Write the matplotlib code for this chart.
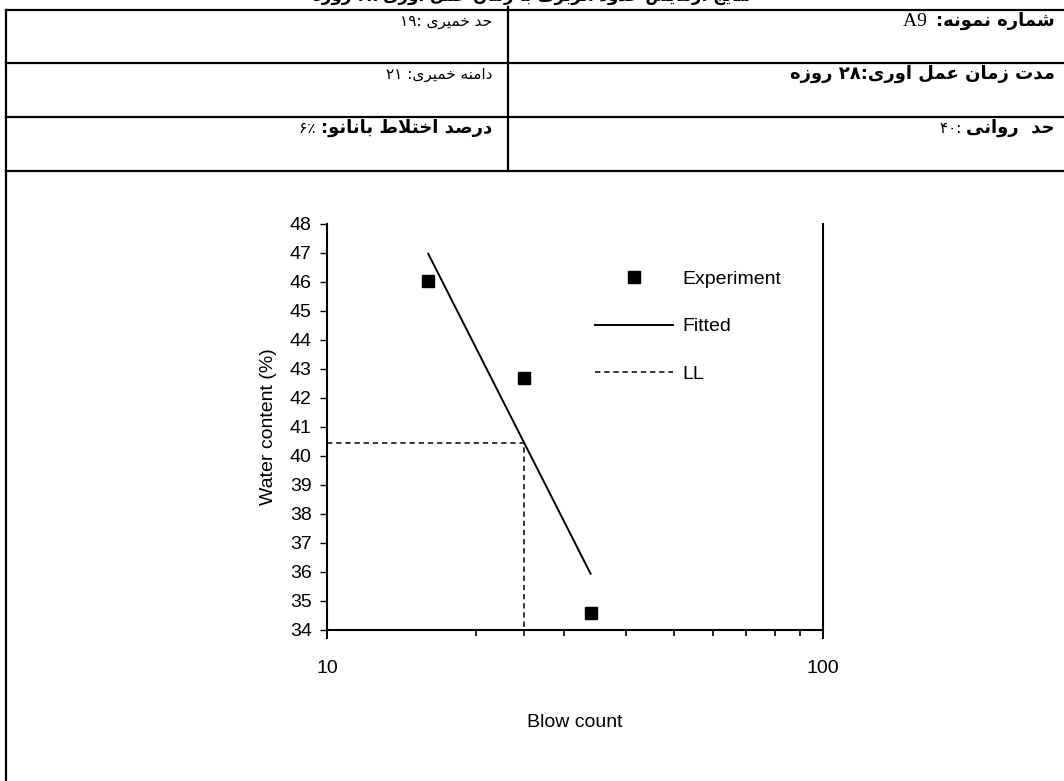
import re
import numpy as np
import matplotlib
matplotlib.use('Agg')
import matplotlib.pyplot as plt
from matplotlib.lines import Line2D
from matplotlib.ticker import LogLocator, NullFormatter

# data
blows = [16, 25, 34]
water = [46.05, 42.7, 34.6]
ll_blows = 25
y_ticks = list(range(34, 49))
x_ticks = [10, 100]
x_tick_labels = ['10', '100']
legend_labels = ['Experiment', 'Fitted', 'LL']

header = 'نتایج آزمایش حدود اتربرگ با زمان عمل آوری ۲۸ روزه'
# (text, style) pieces in logical order, first piece is right-most
right_col = [
    [('شماره نمونه:', 'bold'), ('  A9', 'latin')],
    [('مدت زمان عمل آوری:۲۸ روزه', 'bold')],
    [('حد  روانی', 'bold'), (' :۴۰', 'small')],
]
left_col = [
    [('حد خمیری :۱۹', 'small')],
    [('دامنه خمیری: ۲۱', 'small')],
    [('درصد اختلاط بانانو:', 'bold'), (' ۶٪', 'small')],
]

# minimal arabic-script shaping for matplotlib (no shaping engine there)
FORMS = {
    'ا': ('\uFE8D', '\uFE8E', None, None),
    'آ': ('\uFE81', '\uFE82', None, None),
    'ب': ('\uFE8F', '\uFE90', '\uFE91', '\uFE92'),
    'ت': ('\uFE95', '\uFE96', '\uFE97', '\uFE98'),
    'ج': ('\uFE9D', '\uFE9E', '\uFE9F', '\uFEA0'),
    'ح': ('\uFEA1', '\uFEA2', '\uFEA3', '\uFEA4'),
    'خ': ('\uFEA5', '\uFEA6', '\uFEA7', '\uFEA8'),
    'د': ('\uFEA9', '\uFEAA', None, None),
    'ر': ('\uFEAD', '\uFEAE', None, None),
    'ز': ('\uFEAF', '\uFEB0', None, None),
    'ش': ('\uFEB5', '\uFEB6', '\uFEB7', '\uFEB8'),
    'ص': ('\uFEB9', '\uFEBA', '\uFEBB', '\uFEBC'),
    'ط': ('\uFEC1', '\uFEC2', '\uFEC3', '\uFEC4'),
    'ع': ('\uFEC9', '\uFECA', '\uFECB', '\uFECC'),
    'گ': ('\uFB92', '\uFB93', '\uFB94', '\uFB95'),
    'ل': ('\uFEDD', '\uFEDE', '\uFEDF', '\uFEE0'),
    'م': ('\uFEE1', '\uFEE2', '\uFEE3', '\uFEE4'),
    'ن': ('\uFEE5', '\uFEE6', '\uFEE7', '\uFEE8'),
    'ه': ('\uFEE9', '\uFEEA', '\uFEEB', '\uFEEC'),
    'و': ('\uFEED', '\uFEEE', None, None),
    'ی': ('\uFBFC', '\uFBFD', '\uFBFE', '\uFBFF'),
}
LAM_ALEF = {'ا': ('\uFEFB', '\uFEFC'), 'آ': ('\uFEF5', '\uFEF6')}


def shape(s):
    out = []
    i = 0
    while i < len(s):
        ch = s[i]
        if ch not in FORMS:
            out.append(ch)
            i += 1
            continue
        prev = s[i - 1] if i > 0 else ''
        joins_prev = prev in FORMS and FORMS[prev][2] is not None
        nxt = s[i + 1] if i + 1 < len(s) else ''
        if ch == 'ل' and nxt in LAM_ALEF:
            out.append(LAM_ALEF[nxt][1 if joins_prev else 0])
            i += 2
            continue
        iso, fin, ini, med = FORMS[ch]
        joins_next = ini is not None and nxt in FORMS
        if joins_prev and joins_next:
            out.append(med)
        elif joins_prev:
            out.append(fin)
        elif joins_next:
            out.append(ini)
        else:
            out.append(iso)
        i += 1
    return ''.join(out)


def fa(s):
    # visual order: reverse, but keep digit / latin runs left-to-right
    runs = re.findall(r'[0-9A-Za-z\u06F0-\u06F9\u066A]+|.', shape(s))
    return ''.join(reversed(runs))


W, H = 1064, 781
plt.rcParams['font.family'] = ['Liberation Sans', 'DejaVu Sans']
fig = plt.figure(figsize=(W / 100, H / 100), dpi=100)
fx = lambda px: px / W
fy = lambda py: 1 - py / H

# table frame
for yy in [10, 63, 117, 171]:
    fig.add_artist(Line2D([fx(6), fx(W)], [fy(yy), fy(yy)], transform=fig.transFigure, lw=1.6, color='black'))
fig.add_artist(Line2D([fx(508), fx(508)], [fy(7), fy(171)], transform=fig.transFigure, lw=1.6, color='black'))
fig.add_artist(Line2D([fx(6), fx(6)], [fy(10), fy(H)], transform=fig.transFigure, lw=1.6, color='black'))

# header row is cut by the top edge in the original page
fig.text(fx(531), fy(1), fa(header), ha='center', va='baseline', fontsize=12,
         fontweight='bold', family='DejaVu Sans')

styles = {
    'bold': dict(fontsize=13, fontweight='bold', family='DejaVu Sans'),
    'small': dict(fontsize=11, family='DejaVu Sans'),
    'latin': dict(fontsize=14, family='Liberation Serif'),
}
renderer = fig.canvas.get_renderer()


def rtl_line(x_right, y_base, pieces):
    x = x_right
    for txt, st in pieces:
        t = fig.text(fx(x), fy(y_base), fa(txt), ha='right', va='baseline', **styles[st])
        x = t.get_window_extent(renderer).x0


for k, yb in enumerate([26, 79, 133]):
    rtl_line(1055, yb, right_col[k])
    rtl_line(492, yb, left_col[k])

# chart
ax = fig.add_axes([fx(327), fy(630), (823 - 327) / W, (630 - 224) / H])
lx = np.log10(blows)
slope, icpt = np.polyfit(lx, water, 1)
fit_x = np.array([min(blows), max(blows)])
fit_y = slope * np.log10(fit_x) + icpt
ll = slope * np.log10(ll_blows) + icpt

ax.plot(blows, water, 's', color='black', ms=8, ls='none', label=legend_labels[0])
ax.plot(fit_x, fit_y, '-', color='black', lw=1.4, label=legend_labels[1])
ax.plot([10, ll_blows], [ll, ll], ls=(0, (3.5, 2.5)), color='black', lw=1.1, label=legend_labels[2])
ax.plot([ll_blows, ll_blows], [33.8, ll], ls=(0, (3.5, 2.5)), color='black', lw=1.1, clip_on=False)

ax.set_xscale('log')
ax.set_xlim(10, 100)
ax.set_ylim(34, 48)
ax.set_yticks(y_ticks)
ax.set_xticks(x_ticks)
ax.set_xticklabels(x_tick_labels)
ax.xaxis.set_minor_locator(LogLocator(base=10, subs=np.arange(2, 10)))
ax.xaxis.set_minor_formatter(NullFormatter())
ax.tick_params(axis='y', direction='out', length=5, width=1, pad=6, labelsize=14)
ax.tick_params(axis='x', which='major', direction='out', length=6.5, width=1.4, pad=15, labelsize=14)
ax.tick_params(axis='x', which='minor', direction='out', length=4, width=1.2)
ax.spines['top'].set_visible(False)
for s in ['left', 'bottom', 'right']:
    ax.spines[s].set_linewidth(1.5)
ax.set_xlabel('Blow count', fontsize=14, labelpad=27)
ax.set_ylabel('Water content (%)', fontsize=14, labelpad=9)

ax.legend(loc='upper left', bbox_to_anchor=(fx(595), fy(270)), bbox_transform=fig.transFigure,
          frameon=False, handlelength=4.0, handletextpad=0.5, labelspacing=1.55,
          borderpad=0, borderaxespad=0, fontsize=14, numpoints=1)

fig.savefig('out.png', dpi=100)
